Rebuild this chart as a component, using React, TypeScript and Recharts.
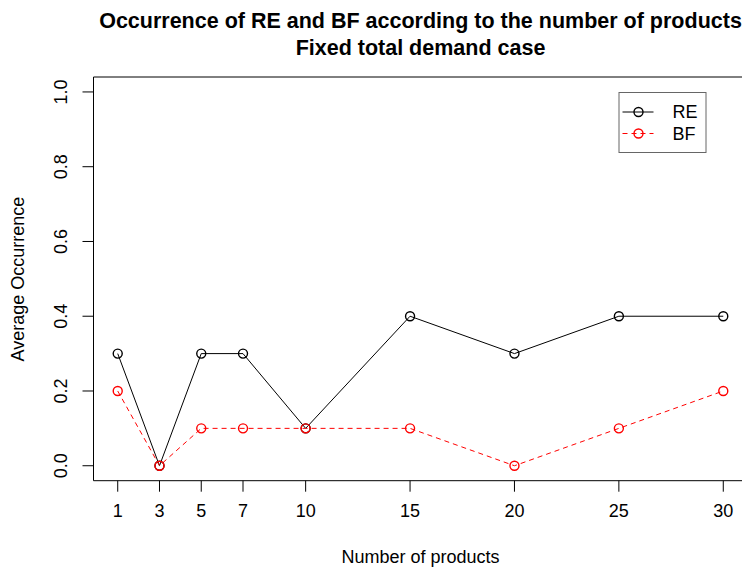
import { LineChart, Line, XAxis, YAxis, ReferenceArea } from "recharts";

const products = [1, 3, 5, 7, 10, 15, 20, 25, 30];
const reValues = [0.3, 0, 0.3, 0.3, 0.1, 0.4, 0.3, 0.4, 0.4];
const bfValues = [0.2, 0, 0.1, 0.1, 0.1, 0.1, 0, 0.1, 0.2];
const yTicks = [0, 0.2, 0.4, 0.6, 0.8, 1.0];

const series = [
  { key: "RE", color: "#000000", dash: undefined as string | undefined },
  { key: "BF", color: "#ff0000", dash: "5 4" },
];

const data = products.map((p, i) => ({ n: p, RE: reValues[i], BF: bfValues[i] }));

const FONT = '"Liberation Sans", Arial, Helvetica, sans-serif';
const X_DOMAIN = [-0.16, 31.16];
const Y_DOMAIN = [-0.04, 1.04];

function OpenDot(props: any) {
  const { cx, cy, stroke } = props;
  if (cx == null || cy == null) return null;
  return <circle cx={cx} cy={cy} r={4.5} fill="none" stroke={stroke} strokeWidth={1.4} />;
}

function YTick(props: any) {
  const { y, payload } = props;
  return (
    <text
      x={61}
      y={y}
      transform={`rotate(-90 61 ${y})`}
      textAnchor="middle"
      dominantBaseline="central"
      fontSize={18}
      fontFamily={FONT}
      fill="#000"
    >
      {Number(payload.value).toFixed(1)}
    </text>
  );
}

// legend box drawn in the svg so it takes no layout space
function LegendBox({ x, y }: { x: number; y: number }) {
  return (
    <g transform={`translate(${x} ${y})`}>
      <rect x={0.5} y={0.5} width={87} height={60} fill="#fff" stroke="#666" strokeWidth={1} />
      {series.map((s, i) => {
        const ly = 20 + i * 21.5;
        return (
          <g key={s.key}>
            <line x1={4} x2={35} y1={ly} y2={ly} stroke={s.color} strokeDasharray={s.dash} strokeWidth={1} />
            <circle cx={20} cy={ly} r={4.5} fill="none" stroke={s.color} strokeWidth={1.4} />
            <text x={54} y={ly} dominantBaseline="central" fontSize={18} fontFamily={FONT} fill="#000">
              {s.key}
            </text>
          </g>
        );
      })}
    </g>
  );
}

export default function App() {
  return (
    <div
      style={{
        position: "absolute",
        left: 0,
        top: 0,
        width: 742,
        height: 567,
        overflow: "hidden",
        background: "#fff",
      }}
    >
      <LineChart
        width={748}
        height={567}
        data={data}
        margin={{ top: 77, right: 0.5, left: 0, bottom: 0 }}
      >
        <text x={420.5} y={28} textAnchor="middle" fontSize={21.5} fontWeight="bold" fontFamily={FONT} fill="#000">
          Occurrence of RE and BF according to the number of products
        </text>
        <text x={420.5} y={55} textAnchor="middle" fontSize={21.5} fontWeight="bold" fontFamily={FONT} fill="#000">
          Fixed total demand case
        </text>
        <text x={420.5} y={563} textAnchor="middle" fontSize={18} fontFamily={FONT} fill="#000">
          Number of products
        </text>
        <text
          x={24}
          y={279}
          transform="rotate(-90 24 279)"
          textAnchor="middle"
          fontSize={18}
          fontFamily={FONT}
          fill="#000"
        >
          Average Occurrence
        </text>
        <XAxis
          dataKey="n"
          type="number"
          domain={X_DOMAIN}
          ticks={products}
          interval={0}
          height={86.3}
          axisLine={false}
          tickLine={{ stroke: "#000" }}
          tickSize={11}
          tickMargin={13}
          tick={{ fontSize: 18, fontFamily: FONT, fill: "#000" }}
          allowDataOverflow
        />
        <YAxis
          type="number"
          domain={Y_DOMAIN}
          ticks={yTicks}
          width={93.5}
          axisLine={false}
          tickLine={{ stroke: "#000" }}
          tickSize={11}
          tick={<YTick />}
          allowDataOverflow
        />
        <ReferenceArea
          x1={X_DOMAIN[0]}
          x2={X_DOMAIN[1]}
          y1={Y_DOMAIN[0]}
          y2={Y_DOMAIN[1]}
          fill="none"
          stroke="#000"
          strokeWidth={1}
          ifOverflow="visible"
        />
        {series.map((s) => (
          <Line
            key={s.key}
            dataKey={s.key}
            type="linear"
            stroke={s.color}
            strokeWidth={1}
            strokeDasharray={s.dash}
            dot={<OpenDot />}
            activeDot={false}
            isAnimationActive={false}
          />
        ))}
        <LegendBox x={618.5} y={92} />
      </LineChart>
    </div>
  );
}
